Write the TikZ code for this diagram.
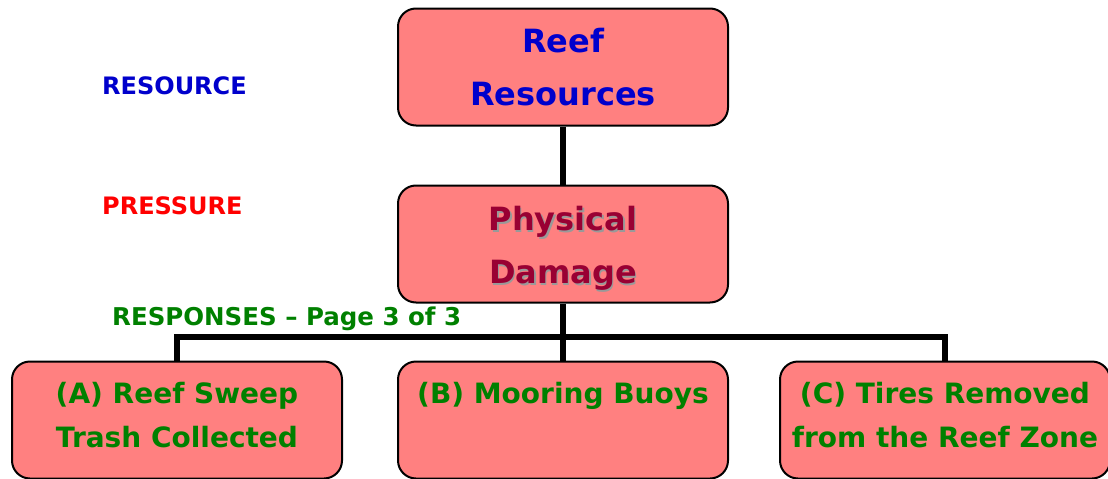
\documentclass[tikz,border=0pt]{standalone}
\usepackage{fontspec}
\setmainfont{DejaVu Sans}
\usepackage{tikz}
\usetikzlibrary{positioning}
\definecolor{boxfill}{HTML}{FF8080}
\definecolor{resblue}{HTML}{0000CC}
\definecolor{dmgred}{HTML}{990033}
\definecolor{respgreen}{HTML}{008000}
\definecolor{presred}{HTML}{FF0000}
\newcommand{\shadowed}[1]{\makebox[0pt][l]{\hspace{1.6pt}\raisebox{-1.6pt}{\color{gray!80}#1}}#1}

\begin{document}
\begin{tikzpicture}[x=1pt,y=-1pt,
  box/.style={draw=black,line width=2pt,fill=boxfill,rounded corners=18pt,
    minimum width=330pt,minimum height=117pt,inner sep=0pt},
  title/.style={font=\bfseries\fontsize{32}{53}\selectfont,align=center},
  resptext/.style={font=\bfseries\fontsize{28}{44}\selectfont,align=center,
    anchor=north,inner sep=0pt,text=respgreen},
  side/.style={font=\bfseries\fontsize{24}{30}\selectfont,anchor=west,inner sep=0pt},
  conn/.style={line width=5.5pt}]
  \useasboundingbox (0,0) rectangle (1108,479);

  % levels down the left
  \node[side,text=resblue] (lblres) at (102,86) {RESOURCE};
  \node[side,text=presred] (lblpres) at (102,206) {PRESSURE};
  \node[side,text=respgreen,font=\bfseries\fontsize{24.5}{30}\selectfont] (lblresp) at (112,319) {RESPONSES -- Page 3 of 3};

  % boxes
  \node[box,title,text=resblue] (reef) at (563,67) {Reef\\Resources};
  \node[box,title,text=dmgred] (damage) at (563,244) {};
  \node[title,text=dmgred,inner sep=0pt] (dmgtext) at ([yshift=-5]damage.center) {\shadowed{Physical}\\\shadowed{Damage}};
  \node[box] (respA) at (177,420) {};
  \node[box] (respB) at (563,420) {};
  \node[box] (respC) at (945,420) {};
  \node[resptext] (txtA) at ([yshift=-22]respA.north) {(A) Reef Sweep\\Trash Collected};
  \node[resptext] (txtB) at ([yshift=-22]respB.north) {(B) Mooring Buoys};
  \node[resptext] (txtC) at ([yshift=-22]respC.north) {(C) Tires Removed\\from the Reef Zone};

  % tree lines
  \coordinate (bar) at (563,337);
  \draw[conn] (reef) -- (damage);
  \draw[conn] (damage) -- (respB);
  \draw[conn] (respA.north) -- (respA.north |- bar) -- (respC.north |- bar) -- (respC.north);
\end{tikzpicture}
\end{document}
